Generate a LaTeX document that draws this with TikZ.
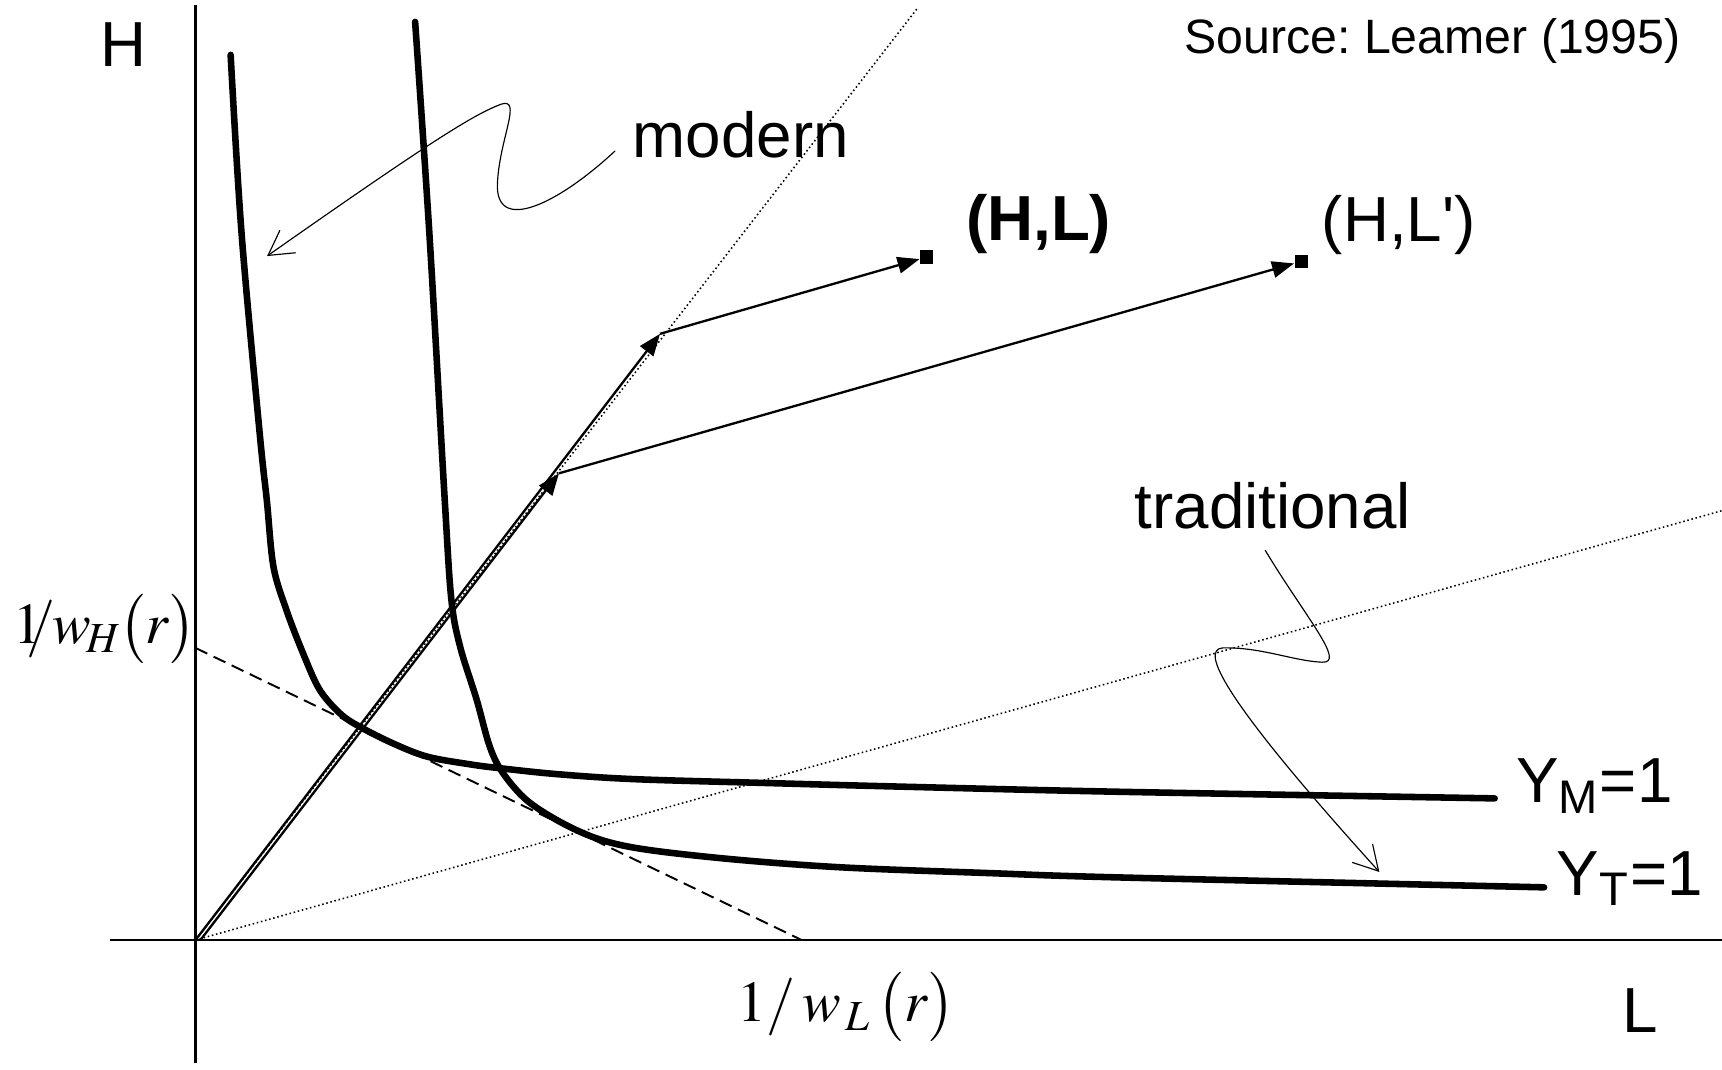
\documentclass[tikz,border=0pt]{standalone}
\usepackage{mathptmx}
\usepackage[no-math]{fontspec}
\setmainfont{Liberation Sans}
\usetikzlibrary{arrows.meta}
\frenchspacing

\begin{document}
\begin{tikzpicture}[
    every node/.style={font=\fontsize{16.5}{20}\selectfont, inner sep=0pt},
    axis/.style={line width=0.6pt},
    isoq/.style={line width=1.7pt, line cap=round},
    ray/.style={line width=0.4pt, dash pattern=on 0.4pt off 0.7pt},
    budget/.style={line width=0.5pt, dash pattern=on 3.4pt off 1.8pt},
    vec/.style={line width=0.6pt, -{Triangle[length=2mm,width=1.5mm]}},
    note/.style={line width=0.3pt, -{Straight Barb[length=2.2mm,width=2.5mm]}},
    pt/.style={fill=black, minimum size=1.2mm, inner sep=0pt},
    mathlbl/.style={font=\fontsize{15}{18}\selectfont}
]

\useasboundingbox (-1.78,-1.18) rectangle (13.90,8.56);

\coordinate (O) at (0,0);
\coordinate (O2) at (0.045,0);
\coordinate (ytop) at (0,8.51);
\coordinate (ybot) at (0,-1.12);
\coordinate (xleft) at (-0.78,0);
\coordinate (xright) at (13.90,0);

\draw[axis] (ybot) -- (ytop);
\draw[axis] (xleft) -- (xright);

\node[anchor=base west] (Hax) at (-0.87,7.95) {H};
\node[anchor=base west] (Lax) at (12.99,-0.84) {L};

\node[anchor=base east, font=\fontsize{12.5}{15}\selectfont] (src) at (13.53,8.075) {Source: Leamer (1995)};

% relative wage line
\coordinate (bH) at (0,2.66);
\coordinate (bL) at (5.52,0);
\draw[budget] (bH) -- (bL);

\node[anchor=base west, mathlbl] (wH) at (-1.66,2.70) {$1\mkern-5mu/\mkern-1mu w_{\mkern-2mu H}\mkern-1mu\big(r\big)$};
\node[anchor=base west, mathlbl] (wL) at (4.93,-0.745) {$1/\,w_{\,L}\,\big(r\big)$};

% factor ratio rays
\coordinate (modtop) at (6.57,8.48);
\coordinate (tradend) at (13.90,3.91);
\draw[ray] (O) -- (modtop);
\draw[ray] (O) -- (tradend);

% unit isoquants
\draw[isoq] plot[smooth, tension=0.55] coordinates {(0.32,8.06) (0.42,6.43) (0.585,4.61) (0.65,4.0) (0.71,3.40) (0.83,3.0) (0.98,2.61) (1.13,2.28) (1.32,2.06) (1.50,1.94) (1.80,1.79) (2.11,1.67) (2.50,1.60) (2.77,1.565) (3.3,1.51) (4.0,1.465) (5.2,1.43) (6.5,1.395) (8.42,1.35) (11.83,1.29)};
\draw[isoq] plot[smooth, tension=0.55] coordinates {(2.00,8.36) (2.13,6.43) (2.27,4.0) (2.33,3.10) (2.41,2.67) (2.56,2.19) (2.68,1.76) (2.80,1.52) (3.02,1.27) (3.35,1.06) (3.70,0.91) (4.13,0.82) (4.95,0.73) (5.92,0.66) (7.22,0.61) (8.42,0.57) (12.28,0.48)};

\node[anchor=base west] (YM) at (12.02,1.25) {Y\textsubscript{M}=1};
\node[anchor=base west] (YT) at (12.39,0.41) {Y\textsubscript{T}=1};

% endowments
\coordinate (A1) at (4.23,5.52);
\coordinate (A2) at (3.31,4.25);
\node[pt] (HL) at (6.66,6.22) {};
\node[pt] (HLp) at (10.07,6.18) {};

\draw[vec] (O) -- (A1);
\draw[vec] (O2) -- (A2);
\draw[vec] (A1) -- (HL);
\draw[vec] (A2) -- (HLp);

\node[anchor=base west] (HLlbl) at (7.01,6.374) {\bfseries (H,L)};
\node[anchor=base west] (HLplbl) at (10.25,6.36) {(H,L\textquotesingle)};

% labels with pointers
\node[anchor=base west] (modern) at (3.976,7.13) {modern};
\node[anchor=base west] (trad) at (8.546,3.75) {traditional};

\coordinate (mstart) at (3.82,7.185);
\coordinate (mtip) at (0.652,6.228);
\draw[note] (mstart) .. controls (3.3,6.7) and (2.72,6.42) .. (2.75,6.9)
  .. controls (2.77,7.3) and (2.98,7.68) .. (2.78,7.61)
  .. controls (2.55,7.52) and (2.25,7.35) .. (mtip);

\coordinate (tstart) at (9.74,3.55);
\coordinate (ttip) at (10.78,0.62);
\draw[note] (tstart) .. controls (10.1,2.95) and (10.48,2.52) .. (10.26,2.53)
  .. controls (10.0,2.54) and (9.7,2.67) .. (9.35,2.66)
  .. controls (9.15,2.64) and (9.35,2.2) .. (ttip);

\end{tikzpicture}
\end{document}
